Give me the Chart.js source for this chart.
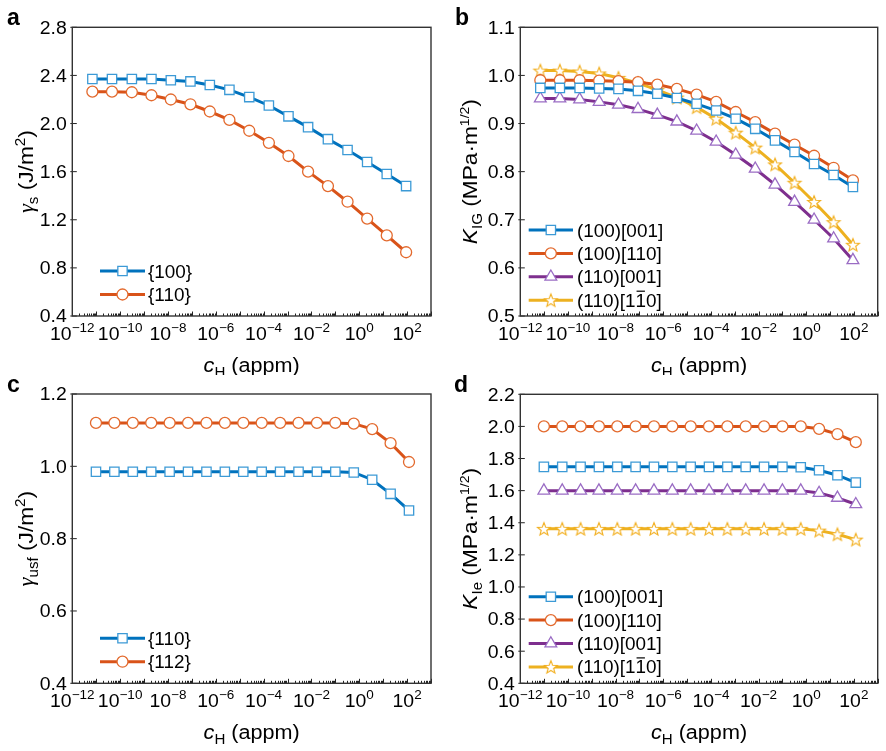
<!DOCTYPE html>
<html><head><meta charset="utf-8">
<script src="https://cdn.jsdelivr.net/npm/chart.js@4.4.1/dist/chart.umd.min.js"></script>
<style>
html,body{margin:0;padding:0;background:#fff;}
#wrap{position:relative;width:886px;height:751px;overflow:hidden;background:#fff;}
canvas{position:absolute;}
</style></head><body>
<div id="wrap">
<canvas id="pa" width="443" height="375" style="left:0px;top:0px"></canvas>
<canvas id="pb" width="443" height="375" style="left:443px;top:0px"></canvas>
<canvas id="pc" width="443" height="376" style="left:0px;top:375px"></canvas>
<canvas id="pd" width="443" height="376" style="left:443px;top:375px"></canvas>
</div>
<script>
// ---------- DATA (x given as log10 of c_H in appm) ----------
const cHexpAB = [-11.16,-10.34,-9.51,-8.69,-7.88,-7.06,-6.25,-5.43,-4.60,-3.78,-2.96,-2.14,-1.31,-0.49,0.33,1.15,1.96];
const cHexpCD = [-11.01,-10.24,-9.47,-8.70,-7.93,-7.16,-6.39,-5.62,-4.85,-4.08,-3.31,-2.54,-1.77,-1.00,-0.23,0.54,1.31,2.08];

// panel a: surface energy
const gammaS_100 = [2.37,2.37,2.37,2.37,2.36,2.35,2.32,2.28,2.22,2.15,2.06,1.97,1.87,1.78,1.68,1.58,1.48];
const gammaS_110 = [2.265,2.265,2.26,2.235,2.20,2.16,2.10,2.03,1.94,1.84,1.73,1.60,1.48,1.35,1.21,1.07,0.93];

// panel b: K_IG
const KIG_100_001 = [0.974,0.974,0.974,0.973,0.972,0.968,0.962,0.953,0.941,0.927,0.910,0.889,0.865,0.841,0.816,0.793,0.768];
const KIG_100_110 = [0.990,0.990,0.990,0.989,0.988,0.986,0.981,0.972,0.960,0.945,0.924,0.903,0.879,0.856,0.833,0.808,0.782];
const KIG_110_001 = [0.952,0.952,0.950,0.945,0.939,0.930,0.918,0.904,0.885,0.862,0.835,0.806,0.773,0.737,0.700,0.661,0.616];
const KIG_110_1m10 = [1.010,1.010,1.008,1.004,0.995,0.984,0.970,0.954,0.934,0.910,0.881,0.850,0.815,0.777,0.737,0.695,0.648];

// panel c: unstable stacking fault energy
const gammaUsf_110 = [0.985,0.985,0.985,0.985,0.985,0.985,0.985,0.985,0.985,0.985,0.985,0.985,0.985,0.985,0.983,0.963,0.924,0.878];
const gammaUsf_112 = [1.12,1.12,1.12,1.12,1.12,1.12,1.12,1.12,1.12,1.12,1.12,1.12,1.12,1.12,1.118,1.103,1.064,1.012];

// panel d: K_Ie
const KIe_100_001 = [1.748,1.748,1.748,1.748,1.748,1.748,1.748,1.748,1.748,1.748,1.748,1.748,1.748,1.748,1.746,1.727,1.696,1.650];
const KIe_100_110 = [2.0,2.0,2.0,2.0,2.0,2.0,2.0,2.0,2.0,2.0,2.0,2.0,2.0,2.0,2.0,1.985,1.952,1.902];
const KIe_110_001 = [1.60,1.60,1.60,1.60,1.60,1.60,1.60,1.60,1.60,1.60,1.60,1.60,1.60,1.60,1.60,1.585,1.555,1.515];
const KIe_110_1m10 = [1.362,1.362,1.362,1.362,1.362,1.362,1.362,1.362,1.362,1.362,1.362,1.362,1.362,1.362,1.362,1.351,1.328,1.295];

const xTickExps = [-12,-10,-8,-6,-4,-2,0,2];
const yTicksA = [0.4,0.8,1.2,1.6,2.0,2.4,2.8];
const yTicksB = [0.5,0.6,0.7,0.8,0.9,1.0,1.1];
const yTicksC = [0.4,0.6,0.8,1.0,1.2];
const yTicksD = [0.4,0.6,0.8,1.0,1.2,1.4,1.6,1.8,2.0,2.2];

// ---------- STYLE ----------
const SANS = '"Liberation Sans", Arial, Helvetica, sans-serif';
const SERIF = '"Liberation Serif", "Times New Roman", serif';
const SX = 1.08;
const BLUE = '#0072BD', ORANGE = '#D95319', PURPLE = '#7E2F8E', YELLOW = '#EDB120';
const BLUE_M = '#3C9AD6', ORANGE_M = '#E36A2E', PURPLE_M = '#9A6CC4', YELLOW_M = '#F2AE1C';

function F(size, style){ return (style ? style + ' ' : '') + size + 'px ' + SANS; }

function starCanvas(){
  const c = document.createElement('canvas'); c.width = 18; c.height = 18;
  const g = c.getContext('2d');
  g.beginPath();
  for (let i = 0; i < 10; i++) {
    const r = i % 2 === 0 ? 6.8 : 2.9;
    const a = -Math.PI/2 + i * Math.PI/5;
    const px = 9 + r*Math.cos(a), py = 9.6 + r*Math.sin(a);
    if (i === 0) g.moveTo(px, py); else g.lineTo(px, py);
  }
  g.closePath();
  g.fillStyle = '#fff'; g.fill();
  g.lineWidth = 1.1; g.strokeStyle = YELLOW_M; g.stroke();
  return c;
}
const STAR = starCanvas();

function richWidth(ctx, segs){ let w = 0; for (const s of segs){ ctx.font = s.f; w += ctx.measureText(s.t).width; } return w * SX; }
function drawRich(ctx, segs, x, y, align){
  const w = richWidth(ctx, segs);
  let x0 = align === 'center' ? x - w/2 : (align === 'right' ? x - w : x);
  ctx.save();
  ctx.translate(x0, y); ctx.scale(SX, 1);
  ctx.textAlign = 'left'; ctx.textBaseline = 'alphabetic';
  let cx = 0;
  for (const s of segs){ ctx.font = s.f; ctx.fillText(s.t, cx, s.dy || 0);
    if (s.over){ const ww = ctx.measureText(s.t).width; ctx.save(); ctx.lineWidth = 1.2; ctx.strokeStyle = ctx.fillStyle; ctx.beginPath(); ctx.moveTo(cx + 1, -15.5); ctx.lineTo(cx + ww - 1, -15.5); ctx.stroke(); ctx.restore(); }
    cx += ctx.measureText(s.t).width; }
  ctx.restore();
}
function seg(t, f, dy, over){ return {t, f, dy: dy || 0, over: !!over}; }

function legendSegs(label){
  if (label === '(110)[1-10]') return [seg('(110)[1', F(17.5)), seg('1', F(17.5), 0, true), seg('0]', F(17.5))];
  return [seg(label, F(17.5))];
}

const xTitle = [seg('c', F(20, 'italic')), seg('H', F(14), 5), seg(' (appm)', F(20))];

function line(ctx, x1, y1, x2, y2){ ctx.beginPath(); ctx.moveTo(x1, y1); ctx.lineTo(x2, y2); ctx.stroke(); }

const panelPlugin = {
  id: 'panel',
  beforeDatasetsDraw(chart){
    const ctx = chart.ctx, a = chart.chartArea, xs = chart.scales.x, ys = chart.scales.y;
    ctx.save();
    ctx.strokeStyle = '#222'; ctx.lineWidth = 1;
    for (let e = -12; e <= 3; e++){
      const px = Math.round(xs.getPixelForValue(Math.pow(10, e))) + 0.5;
      line(ctx, px, a.bottom, px, a.bottom - 4.5);
      if (e < 3) for (let m = 2; m <= 9; m++){
        const p = Math.round(xs.getPixelForValue(m * Math.pow(10, e))) + 0.5;
        line(ctx, p, a.bottom, p, a.bottom - 2.5);
      }
    }
    for (const t of chart.options.plugins.panel.yTicks){
      const py = ys.getPixelForValue(t);
      line(ctx, a.left - 2, py, a.left + 4.5, py);
    }
    ctx.lineWidth = 1.4; ctx.strokeStyle = '#333';
    ctx.strokeRect(a.left, a.top, a.right - a.left, a.bottom - a.top);
    ctx.restore();
  },
  afterDraw(chart){
    const o = chart.options.plugins.panel;
    const ctx = chart.ctx, a = chart.chartArea, xs = chart.scales.x, ys = chart.scales.y;
    ctx.save();
    ctx.fillStyle = '#000';
    for (const t of o.yTicks){
      const py = ys.getPixelForValue(t);
      drawRich(ctx, [seg(t.toFixed(1), F(18))], a.left - 5.5, py + 6.4, 'right');
    }
    for (const e of xTickExps){
      const px = xs.getPixelForValue(Math.pow(10, e));
      const ex = e < 0 ? '\u2212' + Math.abs(e) : String(e);
      drawRich(ctx, [seg('10', F(18)), seg(ex, F(12.5), -8)], px, a.bottom + 24, 'center');
    }
    drawRich(ctx, xTitle, (a.left + a.right)/2, a.bottom + 56, 'center');
    ctx.save();
    ctx.translate(o.yTitleX, (a.top + a.bottom)/2);
    ctx.rotate(-Math.PI/2);
    drawRich(ctx, o.yTitle, 0, 7, 'center');
    ctx.restore();
    ctx.font = 'bold 23px ' + SANS; ctx.textAlign = 'left'; ctx.textBaseline = 'alphabetic';
    ctx.fillText(o.letter, o.letterX, o.letterY);
    const lg = o.legend;
    chart.data.datasets.forEach((d, i) => {
      const y = lg.y0 + i * lg.dy;
      ctx.strokeStyle = d.borderColor; ctx.lineWidth = 3;
      line(ctx, lg.x0, y, lg.x1, y);
      ctx.fillStyle = '#fff'; ctx.strokeStyle = d.pointBorderColor; ctx.lineWidth = d.pointBorderWidth;
      Chart.helpers.drawPoint(ctx, {pointStyle: d.pointStyle, radius: d.pointRadius, rotation: 0, borderWidth: d.pointBorderWidth}, (lg.x0 + lg.x1)/2, y);
      ctx.fillStyle = '#000';
      drawRich(ctx, legendSegs(d.label), lg.tx, y + 6.5, 'left');
    });
    ctx.restore();
  }
};

function ds(label, xe, yv, color, mcolor, style, radius){
  return {label, data: xe.map((e, i) => ({x: Math.pow(10, e), y: yv[i]})),
    borderColor: color, backgroundColor: color, borderWidth: 3,
    pointStyle: style, pointRadius: radius, pointHoverRadius: radius,
    pointBackgroundColor: '#fff', pointBorderColor: mcolor, pointBorderWidth: 1.3,
    tension: 0, fill: false, clip: false};
}

function makePanel(id, box, ymin, ymax, step, datasets, panelOpts){
  const cv = document.getElementById(id);
  const W = cv.width, H = cv.height;
  new Chart(cv, {
    type: 'line',
    data: {datasets},
    options: {
      responsive: false, animation: false, devicePixelRatio: 1,
      layout: {padding: {left: 0, top: box.T, right: W - box.R, bottom: 0}},
      scales: {
        x: {type: 'logarithmic', min: 1e-12, max: 1e3, grid: {display: false}, border: {display: false},
            ticks: {display: false}, afterFit: s => { s.height = H - box.B; }},
        y: {type: 'linear', min: ymin, max: ymax, grid: {display: false}, border: {display: false},
            ticks: {display: false, stepSize: step}, afterFit: s => { s.width = box.L; }}
      },
      plugins: {legend: {display: false}, tooltip: {enabled: false}, panel: panelOpts}
    },
    plugins: [panelPlugin]
  });
}

const sqR = 6.6, ciR = 5.5, trR = 6.8;

makePanel('pa', {L: 72.3, T: 27.3, R: 431, B: 316}, 0.4, 2.8, 0.4, [
  ds('{100}', cHexpAB, gammaS_100, BLUE, BLUE_M, 'rect', sqR),
  ds('{110}', cHexpAB, gammaS_110, ORANGE, ORANGE_M, 'circle', ciR)
], {letter: 'a', letterX: 7, letterY: 25, yTicks: yTicksA, yTitleX: 26,
    yTitle: [seg('\u03B3', 'italic 21px ' + SERIF), seg('s', F(14), 5), seg(' (J/m', F(21)), seg('2', F(14), -8.5), seg(')', F(21))],
    legend: {x0: 100, x1: 145, tx: 148, y0: 271, dy: 23.5}});

makePanel('pb', {L: 77.3, T: 27.3, R: 435.7, B: 316}, 0.5, 1.1, 0.1, [
  ds('(100)[001]', cHexpAB, KIG_100_001, BLUE, BLUE_M, 'rect', sqR),
  ds('(100)[110]', cHexpAB, KIG_100_110, ORANGE, ORANGE_M, 'circle', ciR),
  ds('(110)[001]', cHexpAB, KIG_110_001, PURPLE, PURPLE_M, 'triangle', trR),
  ds('(110)[1-10]', cHexpAB, KIG_110_1m10, YELLOW, YELLOW_M, STAR, 7)
], {letter: 'b', letterX: 12, letterY: 25, yTicks: yTicksB, yTitleX: 27,
    yTitle: [seg('K', F(21, 'italic')), seg('IG', F(14), 5), seg(' (MPa\u00B7m', F(21)), seg('1/2', F(13), -8.5), seg(')', F(21))],
    legend: {x0: 85.7, x1: 130, tx: 134, y0: 230, dy: 23.4}});

makePanel('pc', {L: 72.3, T: 19, R: 431, B: 308.3}, 0.4, 1.2, 0.2, [
  ds('{110}', cHexpCD, gammaUsf_110, BLUE, BLUE_M, 'rect', sqR),
  ds('{112}', cHexpCD, gammaUsf_112, ORANGE, ORANGE_M, 'circle', ciR)
], {letter: 'c', letterX: 7, letterY: 17, yTicks: yTicksC, yTitleX: 26,
    yTitle: [seg('\u03B3', 'italic 21px ' + SERIF), seg('usf', F(14), 5), seg(' (J/m', F(21)), seg('2', F(14), -8.5), seg(')', F(21))],
    legend: {x0: 100, x1: 145, tx: 148, y0: 263.3, dy: 23.4}});

makePanel('pd', {L: 77.3, T: 19.3, R: 435.7, B: 308.3}, 0.4, 2.2, 0.2, [
  ds('(100)[001]', cHexpCD, KIe_100_001, BLUE, BLUE_M, 'rect', sqR),
  ds('(100)[110]', cHexpCD, KIe_100_110, ORANGE, ORANGE_M, 'circle', ciR),
  ds('(110)[001]', cHexpCD, KIe_110_001, PURPLE, PURPLE_M, 'triangle', trR),
  ds('(110)[1-10]', cHexpCD, KIe_110_1m10, YELLOW, YELLOW_M, STAR, 7)
], {letter: 'd', letterX: 11, letterY: 17, yTicks: yTicksD, yTitleX: 27,
    yTitle: [seg('K', F(21, 'italic')), seg('Ie', F(14), 5), seg(' (MPa\u00B7m', F(21)), seg('1/2', F(13), -8.5), seg(')', F(21))],
    legend: {x0: 85.7, x1: 130, tx: 134, y0: 221.7, dy: 23.4}});
</script>
</body></html>
